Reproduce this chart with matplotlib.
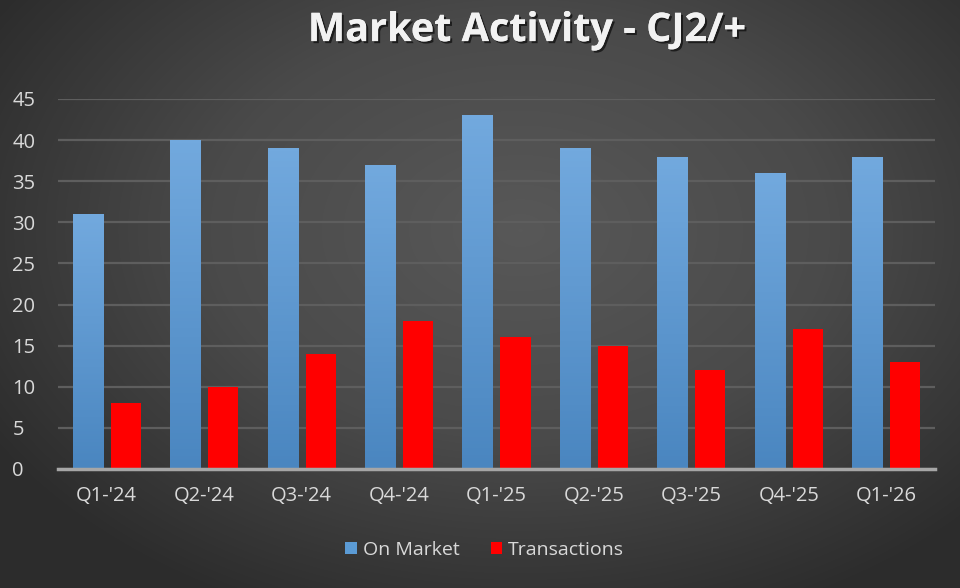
import numpy as np
import matplotlib.pyplot as plt
import matplotlib.patheffects as pe
from matplotlib.colors import LinearSegmentedColormap

quarters = ["Q1-'24", "Q2-'24", "Q3-'24", "Q4-'24", "Q1-'25",
            "Q2-'25", "Q3-'25", "Q4-'25", "Q1-'26"]
on_market = [31, 40, 39, 37, 43, 39, 38, 36, 38]
transactions = [8, 10, 14, 18, 16, 15, 12, 17, 13]

plt.rcParams['font.family'] = ['Open Sans', 'DejaVu Sans']

fig = plt.figure(figsize=(9.6, 5.88), dpi=100)

# radial background
bg = fig.add_axes([0, 0, 1, 1], zorder=-10)
yy, xx = np.mgrid[0:588, 0:960]
r = np.sqrt(((xx - 520) / 620.0) ** 2 + ((yy - 230) / 420.0) ** 2)
bg_cmap = LinearSegmentedColormap.from_list("bg", ["#585858", "#4a4a4a", "#2c2c2c"])
bg.imshow(np.clip(r, 0, 1), cmap=bg_cmap, vmin=0, vmax=1, aspect='auto',
          extent=[0, 1, 0, 1])
bg.axis('off')

ax = fig.add_axes([58 / 960, 1 - 469 / 588, 877 / 960, 370 / 588])
ax.patch.set_alpha(0)

x = np.arange(len(quarters))
w = 0.31
off = 0.195
b1 = ax.bar(x - off, on_market, w, color="#5b9bd5", zorder=3, label="On Market")
b2 = ax.bar(x + off, transactions, w, color="#ff0000", zorder=3, label="Transactions")

# vertical gradient on the blue bars
grad = np.linspace(0, 1, 100).reshape(-1, 1)
blue_cmap = LinearSegmentedColormap.from_list("bl", ["#4a86c0", "#72a9de"])
for bar in b1:
    bx, by = bar.get_x(), bar.get_y()
    bw, bh = bar.get_width(), bar.get_height()
    im = ax.imshow(grad, cmap=blue_cmap, origin='lower', aspect='auto',
                   extent=[bx, bx + bw, by, by + bh], zorder=4)
    im.set_clip_path(bar)

ax.set_xlim(-0.5, len(quarters) - 0.5)
ax.set_ylim(0, 45)
ax.set_yticks(range(0, 46, 5))
ax.set_xticks(x)
ax.set_xticklabels(quarters)
ax.yaxis.grid(True, color="#5e5e5e", linewidth=1.6, zorder=0)
ax.set_axisbelow(True)
for s in ['top', 'right', 'left']:
    ax.spines[s].set_visible(False)
ax.spines['bottom'].set_color("#a6a6a6")
ax.spines['bottom'].set_linewidth(2.5)
ax.spines['bottom'].set_zorder(5)
ax.tick_params(axis='both', length=0, colors="#d9d9d9", labelsize=14.5)
ax.tick_params(axis='x', pad=12)
ax.tick_params(axis='y', pad=0)
for lbl in ax.get_yticklabels():
    lbl.set_horizontalalignment('left')
    lbl.set_x(-0.052)

title = fig.text(0.549, 0.948, "Market Activity - CJ2/+", ha='center', va='center',
                 fontsize=28.5, fontweight='bold', color="#f2f2f2")
title.set_path_effects([pe.withSimplePatchShadow(offset=(1.5, -1.5), alpha=0.6,
                                                 shadow_rgbFace='black'), pe.Normal()])

leg = fig.legend(handles=[b1, b2], loc='center', bbox_to_anchor=(0.505, 1 - 550 / 588),
                 ncol=2, frameon=False, fontsize=14, handlelength=0.6,
                 handleheight=0.6, handletextpad=0.3, columnspacing=1.6)
for t in leg.get_texts():
    t.set_color("#d9d9d9")

fig.savefig("out.png", dpi=100)
